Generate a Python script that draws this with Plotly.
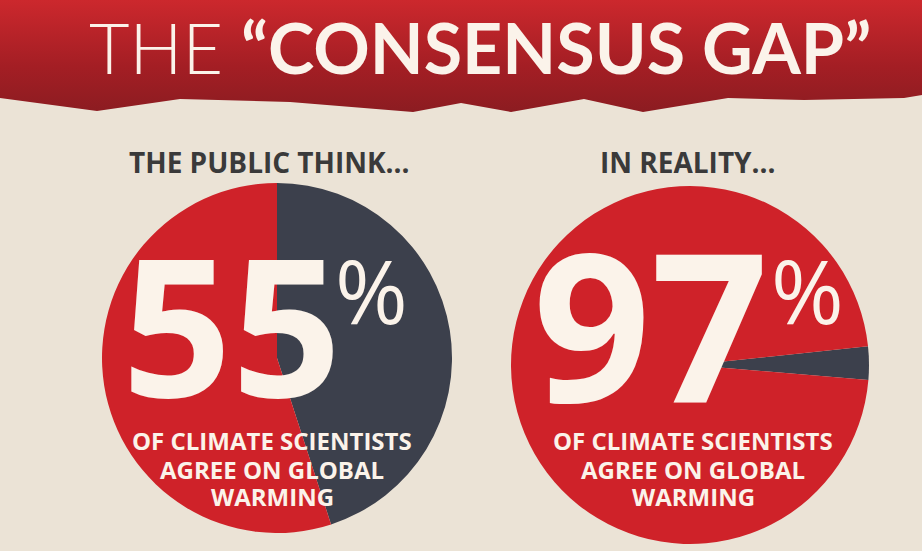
"""
Consensus gap — two pies: what the public think vs. the real scientific consensus.
"""
import plotly.graph_objects as go

# data
PANEL_TITLES = ["THE PUBLIC THINK...", "IN REALITY..."]
AGREE_PCT = [55, 97]
OTHER_PCT = [45, 3]
CAPTION_LINES = ["OF CLIMATE SCIENTISTS", "AGREE ON GLOBAL", "WARMING"]

W, H = 922, 551
RED = "#cf2229"
RED_DARK = "#8c1c21"
GREY = "#3c404c"
INK = "#3a3a3a"
CREAM = "#ebe3d6"
WHITE = "#fbf3ea"
FONT = "Open Sans"

# jagged bottom edge of the top banner (pixel space, left -> right)
EDGE_X = [0, 97, 180, 290, 413, 461, 511, 584, 643, 728, 804, 904, 922]
EDGE_Y = [98, 111, 99, 102, 112, 103, 112, 99, 112, 98, 100, 98, 95]

# pie placement (centre x, centre y, radius) in pixels
PIE_GEOM = [(277, 358, 175), (690, 365, 179)]

fig = go.Figure()

# banner: closed polygon with a vertical gradient
bx = [0] + EDGE_X + [W, 0]
by = [0] + EDGE_Y + [0, 0]
fig.add_trace(go.Scatter(
    x=bx, y=by, mode="lines", fill="toself",
    line=dict(width=0, color=RED_DARK),
    fillgradient=dict(type="vertical", start=0, stop=112,
                      colorscale=[[0, "#cc282d"], [0.6, "#a31e24"], [1, RED_DARK]]),
    hoverinfo="skip", showlegend=False,
))

# both pies drawn clockwise, "other" slice first
PIE_ROT = [0, 84]
for i, (cx, cy, r) in enumerate(PIE_GEOM):
    fig.add_trace(go.Pie(
        values=[OTHER_PCT[i], AGREE_PCT[i]], labels=["other", "agree"],
        sort=False, direction="clockwise", rotation=PIE_ROT[i],
        marker=dict(colors=[GREY, RED], line=dict(width=0)),
        textinfo="none", hoverinfo="skip", showlegend=False,
        domain=dict(x=[(cx - r) / W, (cx + r) / W],
                    y=[1 - (cy + r) / H, 1 - (cy - r) / H]),
    ))

ann = [dict(
    x=87, y=47, xanchor="left", yanchor="middle",
    text='<span style="font-weight:300">THE</span> <b>“CONSENSUS GAP”</b>',
    font=dict(family="Lato", size=70, color=WHITE),
)]

title_x = [269, 688]
big_x = [232, 651]
big_size = [192, 206]
pct_x = [371, 807]
cap_x = [272, 693]
cap_y = [440, 469, 496]
for i in range(2):
    ann.append(dict(x=title_x[i], y=162, text=f"<b>{PANEL_TITLES[i]}</b>",
                    font=dict(family=FONT, size=28, color=INK)))
    ann.append(dict(x=big_x[i], y=322, text=f"<b>{AGREE_PCT[i]}</b>",
                    font=dict(family=FONT, size=big_size[i], color=WHITE)))
    ann.append(dict(x=pct_x[i], y=290, text="%",
                    font=dict(family=FONT, size=88, color=WHITE)))
    for line, ly in zip(CAPTION_LINES, cap_y):
        ann.append(dict(x=cap_x[i], y=ly, text=f"<b>{line}</b>",
                        font=dict(family=FONT, size=24, color=WHITE)))

for a in ann:
    a.setdefault("xanchor", "center")
    a.setdefault("yanchor", "middle")
    a.update(xref="x", yref="y", showarrow=False)

fig.update_layout(
    width=W, height=H,
    margin=dict(l=0, r=0, t=0, b=0),
    paper_bgcolor=CREAM, plot_bgcolor="rgba(0,0,0,0)",
    xaxis=dict(range=[0, W], visible=False, fixedrange=True),
    yaxis=dict(range=[H, 0], visible=False, fixedrange=True),
    annotations=ann,
)

fig.write_html("out.html", config={"displayModeBar": False},
               post_script="document.body.style.margin='0';")
